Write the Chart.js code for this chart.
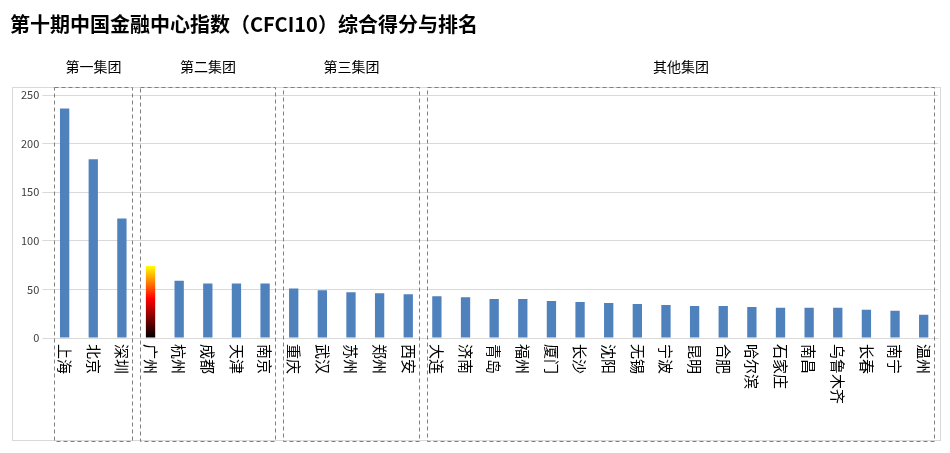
<!DOCTYPE html>
<html>
<head>
<meta charset="utf-8">
<script src="https://cdn.jsdelivr.net/npm/chart.js@4/dist/chart.umd.min.js"></script>
<style>
  html, body { margin: 0; padding: 0; background: #fff; }
  #wrap { width: 950px; height: 453px; }
</style>
</head>
<body>
<div id="wrap"><canvas id="c"></canvas></div>
<script>
const cities = ['上海','北京','深圳','广州','杭州','成都','天津','南京','重庆','武汉','苏州','郑州','西安',
  '大连','济南','青岛','福州','厦门','长沙','沈阳','无锡','宁波','昆明','合肥','哈尔滨','石家庄','南昌',
  '乌鲁木齐','长春','南宁','温州'];
const scores = [236,184,123,74,59,56,56,56,51,49,47,46,45,43,42,40,40,38,37,36,35,34,33,33,32,31,31,31,29,28,24];
const groupNames = ['第一集团','第二集团','第三集团','其他集团'];
const groupRanges = [[0,2],[3,7],[8,12],[13,30]];
const titleText = '第十期中国金融中心指数（CFCI10）综合得分与排名';

const FONT = '"Noto Sans CJK SC", "Noto Sans", sans-serif';

const decor = {
  id: 'decor',
  beforeDraw(chart) {
    const c = chart.ctx;
    c.save();
    c.fillStyle = '#fff';
    c.fillRect(0, 0, chart.width, chart.height);
    c.strokeStyle = '#d9d9d9';
    c.lineWidth = 1;
    c.strokeRect(12.5, 87.5, 928, 353);
    c.restore();
  },
  afterDraw(chart) {
    const c = chart.ctx;
    const x = chart.scales.x;
    const half = (x.getPixelForValue(1) - x.getPixelForValue(0)) / 2;
    c.save();
    c.fillStyle = '#000';
    c.font = 'bold 20px ' + FONT;
    c.textBaseline = 'middle';
    c.fillText(titleText, 10, 24);

    // 类别标签：顺时针旋转 90°
    c.font = '15px ' + FONT;
    c.textAlign = 'left';
    cities.forEach((name, i) => {
      c.save();
      c.translate(x.getPixelForValue(i), chart.chartArea.bottom + 6);
      c.rotate(Math.PI / 2);
      c.fillText(name, 0, 0);
      c.restore();
    });

    c.strokeStyle = '#7f7f7f';
    c.setLineDash([4, 3]);
    c.lineWidth = 1;
    c.font = '14px ' + FONT;
    c.textAlign = 'center';
    groupRanges.forEach(([a, b], i) => {
      const x1 = Math.round(x.getPixelForValue(a) - half + 4) + 0.5;
      const x2 = Math.round(x.getPixelForValue(b) + half - 4) + 0.5;
      c.strokeRect(x1, 87.5, x2 - x1, 354);
      c.fillText(groupNames[i], (x1 + x2) / 2, 67);
    });
    c.restore();
  }
};

new Chart(document.getElementById('c'), {
  type: 'bar',
  data: {
    labels: cities,
    datasets: [{
      data: scores,
      barPercentage: 0.65,
      categoryPercentage: 0.5,
      backgroundColor: (ctx) => {
        if (ctx.dataIndex !== 3) return '#4f81bd';
        const chart = ctx.chart;
        if (!chart.chartArea) return '#c00000';
        const y = chart.scales.y;
        const top = y.getPixelForValue(scores[3]);
        const bottom = y.getPixelForValue(0);
        const g = chart.ctx.createLinearGradient(0, top, 0, bottom);
        g.addColorStop(0, '#ffff00');
        g.addColorStop(0.45, '#ff0000');
        g.addColorStop(1, '#000000');
        return g;
      }
    }]
  },
  options: {
    responsive: true,
    maintainAspectRatio: false,
    animation: false,
    layout: { padding: { top: 95, left: 18, right: 12, bottom: 107 } },
    plugins: { legend: { display: false }, tooltip: { enabled: false } },
    scales: {
      x: {
        grid: { display: false },
        border: { color: '#d9d9d9' },
        ticks: { display: false }
      },
      y: {
        min: 0, max: 250,
        ticks: { stepSize: 50, color: '#404040', font: { family: FONT, size: 11 } },
        grid: { color: '#d9d9d9' },
        border: { display: false }
      }
    }
  },
  plugins: [decor]
});
</script>
</body>
</html>
